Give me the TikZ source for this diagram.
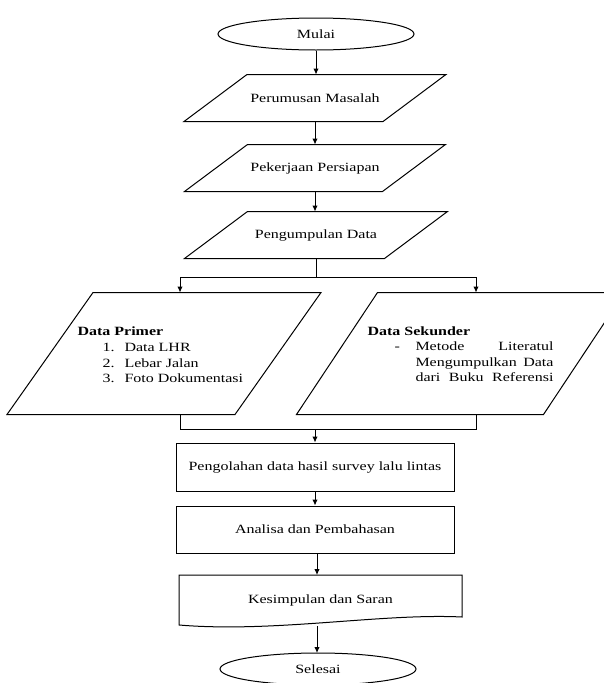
\documentclass[tikz,border=0pt]{standalone}
\usepackage{fontspec}
\setmainfont{Liberation Serif}[FakeStretch=1.27]
\usetikzlibrary{shapes.geometric,arrows.meta,calc}
\newcommand\drawpara[2]{\draw ($(#1.north west)+(#2/2,0)$) -- ($(#1.north east)+(#2/2,0)$) -- ($(#1.south east)+(-#2/2,0)$) -- ($(#1.south west)+(-#2/2,0)$) -- cycle;}
\begin{document}
\begin{tikzpicture}[x=1pt,y=-1pt, line width=1pt,
  every node/.style={font=\fontsize{12.6}{15.5}\selectfont},
  term/.style={draw, ellipse, minimum width=196pt, minimum height=32pt, inner sep=0pt},
  io/.style={inner sep=0pt, minimum height=46pt},
  proc/.style={draw, inner sep=0pt, minimum width=278pt},
  txt/.style={inner sep=0pt, anchor=base west},
  flow/.style={-{Latex[length=6pt,width=5.5pt]}}]
\useasboundingbox (0,0) rectangle (603,683);

\node[term] (start) at (316,34) {Mulai};
\node[io, minimum width=198pt] (p1) at (315,98) {Perumusan Masalah};
\node[io, minimum width=197pt] (p2) at (315,168) {Pekerjaan Persiapan};
\node[io, minimum width=199pt] (p3) at (316,235) {Pengumpulan Data};
\drawpara{p1}{63}
\drawpara{p2}{63}
\drawpara{p3}{63}

\node[inner sep=0pt, minimum width=227pt, minimum height=121pt] (prim) at (164,353.5) {};
\node[inner sep=0pt, minimum width=246pt, minimum height=121pt] (sek) at (460.5,353.5) {};
\drawpara{prim}{86}
\drawpara{sek}{81}

\node[txt] (ph) at (77,335.5) {\bfseries Data Primer};
\node[txt] (n1) at (102,351.5) {1.};
\node[txt] (i1) at (124,351.5) {Data LHR};
\node[txt] (n2) at (102,367) {2.};
\node[txt] (i2) at (124,367) {Lebar Jalan};
\node[txt] (n3) at (102,382.5) {3.};
\node[txt] (i3) at (124,382.5) {Foto Dokumentasi};

\node[txt] (sh) at (367,335.5) {\bfseries Data Sekunder};
\node[txt] (dash) at (394,350.5) {-};
\node[txt] (s1) at (415,350.5) {\makebox[138pt][s]{Metode Literatul}};
\node[txt] (s2) at (415,366) {\makebox[138pt][s]{Mengumpulkan Data}};
\node[txt] (s3) at (415,381.5) {\makebox[138pt][s]{dari Buku Referensi}};

\node[proc, minimum height=48pt] (olah) at (315,467) {Pengolahan data hasil survey lalu lintas};
\node[proc, minimum height=47pt] (anal) at (315,529.5) {Analisa dan Pembahasan};

\node[inner sep=0pt, minimum width=283pt, minimum height=46pt] (kes) at (320.5,600) {Kesimpulan dan Saran};
\coordinate (kesnw) at (179,575);
\coordinate (kesne) at (462,575);
\draw (kesnw) -- (kesne) -- ($(kesne)+(0,42)$)
  .. controls ($(kesne)+(-80,38)$) and ($(kesnw)+(95,58)$) .. ($(kesnw)+(0,50)$) -- cycle;

\node[term] (stop) at (318,669) {Selesai};

\draw[flow] (start.south) -- (start.south |- p1.north);
\draw[flow] (p1.south) -- (p1.south |- p2.north);
\draw[flow] (p2.south) -- (p2.south |- p3.north);

\coordinate (jl) at (180,277);
\coordinate (jr) at (476,277);
\coordinate (jc) at (316,277);
\draw (p3.south) -- (jc);
\draw (jl) -- (jr);
\draw[flow] (jl) -- (jl |- prim.north);
\draw[flow] (jr) -- (jr |- sek.north);

\coordinate (ml) at (180,429);
\coordinate (mr) at (476,429);
\coordinate (mc) at (315,429);
\draw (ml |- prim.south) -- (ml) -- (mr) -- (mr |- sek.south);
\draw[flow] (mc) -- (olah.north);

\draw[flow] (olah.south) -- (anal.north);
\coordinate (ka) at (317,553.5);
\coordinate (kt) at (317,575);
\coordinate (kb) at (317,626);
\coordinate (st) at (317,653);
\draw[flow] (ka) -- (kt);
\draw[flow] (kb) -- (st);
\end{tikzpicture}
\end{document}
